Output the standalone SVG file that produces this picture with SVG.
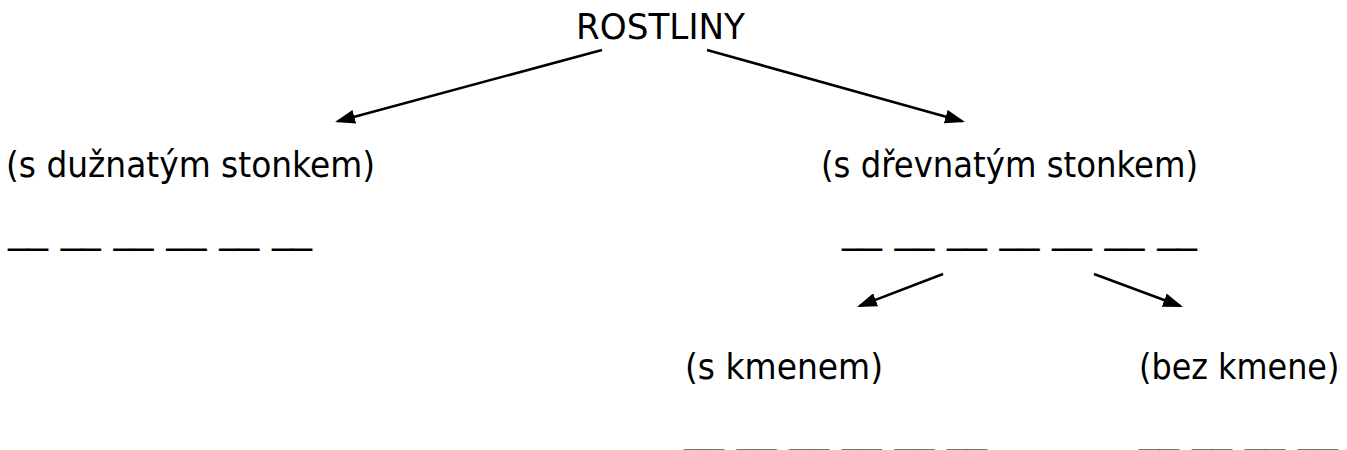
<svg xmlns="http://www.w3.org/2000/svg" width="1347" height="450" viewBox="0 0 1347 450">
<style>
text{font-family:"DejaVu Sans","Verdana",sans-serif;font-size:36px;fill:#000}
.c{stroke:#000;stroke-width:2.5;fill:none;marker-end:url(#ah)}
</style>
<defs>
<marker id="ah" markerUnits="userSpaceOnUse" markerWidth="20" markerHeight="14" refX="17" refY="7" orient="auto">
<path d="M0,0 L20,7 L0,14 z" fill="#000"/>
</marker>
</defs>
<rect width="1347" height="450" fill="#fff"/>
<g id="connectors">
<line class="c" x1="602" y1="50" x2="337.9" y2="121.2"/>
<line class="c" x1="707" y1="50" x2="962.1" y2="121.2"/>
<line class="c" x1="943" y1="274" x2="859.8" y2="305.9"/>
<line class="c" x1="1094" y1="274" x2="1180.2" y2="306"/>
</g>
<g id="root"><text x="576" y="39" textLength="169" lengthAdjust="spacingAndGlyphs">ROSTLINY</text></g>
<g id="duznaty">
<text x="6" y="177" textLength="369" lengthAdjust="spacingAndGlyphs">(s dužnatým stonkem)</text>
<text x="8" y="243" textLength="304" lengthAdjust="spacingAndGlyphs">__ __ __ __ __ __</text>
</g>
<g id="drevnaty">
<text x="821" y="177" textLength="377" lengthAdjust="spacingAndGlyphs">(s dřevnatým stonkem)</text>
<text x="842" y="243" textLength="355" lengthAdjust="spacingAndGlyphs">__ __ __ __ __ __ __</text>
</g>
<g id="kmen">
<text x="685" y="379" textLength="198" lengthAdjust="spacingAndGlyphs">(s kmenem)</text>
<text x="684" y="444" textLength="303" lengthAdjust="spacingAndGlyphs">__ __ __ __ __ __</text>
</g>
<g id="bezkmene">
<text transform="matrix(0.885 0 0 1 1139 379)">(bez kmene)</text>
<text x="1139" y="444" textLength="199" lengthAdjust="spacingAndGlyphs">__ __ __ __</text>
</g>
</svg>
